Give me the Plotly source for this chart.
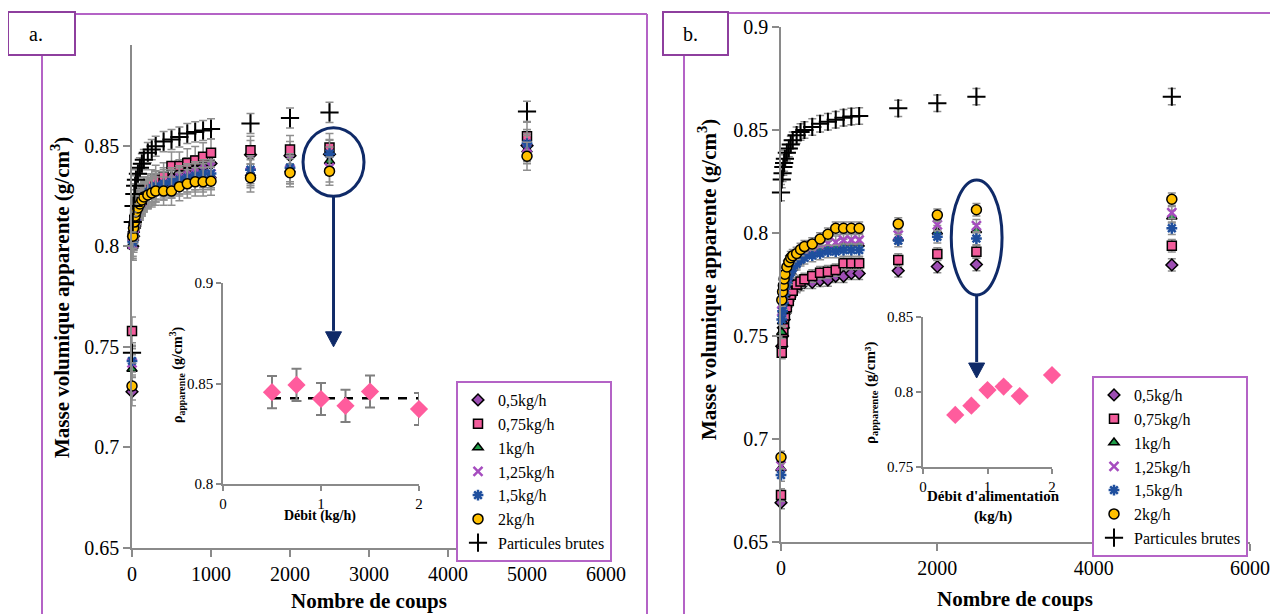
import plotly.graph_objects as go

# ---------------- data ----------------
X = [0, 10, 20, 30, 40, 50, 75, 100, 125, 150, 200, 250, 300, 400, 500,
     600, 700, 800, 900, 1000, 1500, 2000, 2500, 5000]
LABELS = ["0,5kg/h", "0,75kg/h", "1kg/h", "1,25kg/h", "1,5kg/h", "2kg/h", "Particules brutes"]

# panel a
A_05 = [0.7277, 0.800, 0.805, 0.809, 0.812, 0.815, 0.818, 0.821, 0.823, 0.825, 0.827, 0.829,
        0.8305, 0.832, 0.834, 0.836, 0.837, 0.838, 0.8395, 0.8411, 0.8455, 0.845, 0.8457, 0.850]
A_075 = [0.7578, 0.805, 0.809, 0.813, 0.816, 0.818, 0.822, 0.824, 0.826, 0.8275, 0.829, 0.831,
         0.8332, 0.8345, 0.8398, 0.8398, 0.8414, 0.8426, 0.8444, 0.8464, 0.8477, 0.848, 0.849, 0.8546]
A_1 = [0.739, 0.800, 0.804, 0.808, 0.811, 0.814, 0.817, 0.820, 0.822, 0.824, 0.826, 0.828,
       0.829, 0.830, 0.831, 0.832, 0.833, 0.834, 0.834, 0.835, 0.836, 0.838, 0.8423, 0.848]
A_125 = [0.742, 0.801, 0.805, 0.809, 0.812, 0.815, 0.818, 0.820, 0.822, 0.824, 0.826, 0.828,
         0.829, 0.830, 0.831, 0.833, 0.834, 0.835, 0.835, 0.836, 0.837, 0.838, 0.8389, 0.849]
A_15 = [0.743, 0.802, 0.806, 0.810, 0.813, 0.816, 0.819, 0.821, 0.823, 0.825, 0.827, 0.829,
        0.830, 0.831, 0.832, 0.833, 0.834, 0.835, 0.836, 0.8361, 0.838, 0.839, 0.846, 0.851]
A_2 = [0.7305, 0.805, 0.809, 0.812, 0.815, 0.817, 0.819, 0.821, 0.823, 0.8245, 0.8255, 0.8265,
       0.8274, 0.8274, 0.8274, 0.8296, 0.831, 0.832, 0.832, 0.8323, 0.834, 0.8365, 0.8373, 0.8447]
A_RAW = [0.747, 0.812, 0.820, 0.826, 0.830, 0.833, 0.836, 0.839, 0.841, 0.843, 0.8465, 0.848,
         0.8497, 0.852, 0.853, 0.8543, 0.856, 0.8568, 0.8575, 0.8583, 0.861, 0.8637, 0.8665, 0.867]
A_ERR = [0.007, 0.007, 0.007, 0.007, 0.007, 0.007, 0.005]

# panel b
B_05 = [0.6691, 0.745, 0.750, 0.754, 0.758, 0.761, 0.765, 0.768, 0.770, 0.772, 0.774, 0.775,
        0.776, 0.776, 0.777, 0.7772, 0.779, 0.779, 0.7804, 0.7804, 0.7817, 0.7837, 0.7847, 0.7845]
B_075 = [0.6728, 0.7419, 0.747, 0.752, 0.756, 0.760, 0.764, 0.767, 0.770, 0.772, 0.775, 0.7765,
         0.7775, 0.7791, 0.7807, 0.7812, 0.782, 0.7853, 0.7853, 0.7853, 0.7869, 0.7898, 0.7909, 0.7938]
B_1 = [0.6858, 0.7518, 0.757, 0.762, 0.766, 0.770, 0.774, 0.778, 0.781, 0.783, 0.786, 0.788,
       0.7895, 0.791, 0.792, 0.793, 0.7935, 0.794, 0.7947, 0.7947, 0.7975, 0.8006, 0.8013, 0.8079]
B_125 = [0.6869, 0.762, 0.766, 0.770, 0.773, 0.776, 0.779, 0.782, 0.784, 0.786, 0.788, 0.790,
         0.791, 0.7925, 0.794, 0.795, 0.7955, 0.7966, 0.7966, 0.7966, 0.799, 0.8039, 0.8036, 0.8099]
B_15 = [0.6825, 0.758, 0.762, 0.766, 0.770, 0.773, 0.776, 0.779, 0.781, 0.783, 0.785, 0.787,
        0.788, 0.789, 0.790, 0.791, 0.791, 0.7917, 0.7917, 0.7917, 0.7963, 0.7982, 0.7973, 0.8023]
B_2 = [0.6911, 0.7675, 0.7715, 0.7745, 0.7777, 0.780, 0.7835, 0.786, 0.788, 0.789, 0.7901, 0.792,
       0.7934, 0.7947, 0.7971, 0.7994, 0.8023, 0.8023, 0.8023, 0.8023, 0.8044, 0.8087, 0.8113, 0.8164]
B_RAW = [0.8196, 0.826, 0.829, 0.832, 0.834, 0.836, 0.839, 0.841, 0.843, 0.845, 0.8475, 0.849,
         0.850, 0.8515, 0.853, 0.854, 0.855, 0.856, 0.8565, 0.8568, 0.8605, 0.863, 0.8662, 0.8662]
B_ERR = [0.003, 0.003, 0.003, 0.003, 0.003, 0.003, 0.004]

# insets
INSET_X = [0.5, 0.75, 1, 1.25, 1.5, 2]
INSET_A = [0.8457, 0.8493, 0.8423, 0.8389, 0.846, 0.8373]
INSET_A_ERR = 0.008
INSET_A_MEAN = 0.8427
INSET_B = [0.7847, 0.7909, 0.8013, 0.8036, 0.7973, 0.8113]
INSET_B_ERR = 0.002

# ---------------- styles ----------------
W, H = 1278, 614
OFF = 8  # page body margin: the figure is drawn 8px from the window's corner
SERIF = "Liberation Serif, Times New Roman, serif"
AXC = "#8a8a8a"
NAVY = "#0f2a68"
FRAME = "#b463c6"
BOXC = "#8e3f9e"

STYLES = [
    dict(symbol="diamond", color="#9d4db3", size=9, line=dict(color="black", width=1.5)),
    dict(symbol="square", color="#f25c9b", size=9, line=dict(color="black", width=1.5)),
    dict(symbol="triangle-up", color="#1e9e48", size=9, line=dict(color="black", width=1.5)),
    dict(symbol="x-thin", color="#a64dbf", size=9, line=dict(color="#a64dbf", width=2.5)),
    dict(symbol="asterisk", color="#1f4f9e", size=9, line=dict(color="#1f4f9e", width=2.5)),
    dict(symbol="circle", color="#ffc000", size=10, line=dict(color="black", width=1.5)),
    dict(symbol="cross-thin", color="black", size=13, line=dict(color="black", width=2)),
]


def px(x):
    return (x - OFF) / W


def py(y):
    return 1 - (y - OFF) / H


fig = go.Figure()

for series, errs, xa, ya, leg in [
    ([A_05, A_075, A_1, A_125, A_15, A_2, A_RAW], A_ERR, "x", "y", "legend"),
    ([B_05, B_075, B_1, B_125, B_15, B_2, B_RAW], B_ERR, "x2", "y2", "legend2"),
]:
    for lab, vals, err, st in zip(LABELS, series, errs, STYLES):
        fig.add_trace(go.Scatter(
            x=X, y=vals, mode="markers", name=lab, xaxis=xa, yaxis=ya, legend=leg,
            cliponaxis=False,
            marker=dict(symbol=st["symbol"], color=st["color"], size=st["size"], line=st["line"]),
            error_y=dict(type="data", array=[err] * len(vals), color="#8f8f8f",
                         thickness=1.5, width=4),
        ))

# inset a
fig.add_trace(go.Scatter(
    x=[INSET_X[0], INSET_X[-1]], y=[INSET_A_MEAN, INSET_A_MEAN], mode="lines",
    line=dict(color="black", width=2.5, dash="dash"), xaxis="x3", yaxis="y3", showlegend=False))
fig.add_trace(go.Scatter(
    x=INSET_X, y=INSET_A, mode="markers", xaxis="x3", yaxis="y3", showlegend=False,
    cliponaxis=False,
    marker=dict(symbol="diamond", color="#ff5c9d", size=14),
    error_y=dict(type="data", array=[INSET_A_ERR] * len(INSET_A), color="#7f7f7f",
                 thickness=2, width=5)))
# inset b
fig.add_trace(go.Scatter(
    x=INSET_X, y=INSET_B, mode="markers", xaxis="x4", yaxis="y4", showlegend=False,
    cliponaxis=False,
    marker=dict(symbol="diamond", color="#ff5c9d", size=14),
    error_y=dict(type="data", array=[INSET_B_ERR] * len(INSET_B), color="#7f7f7f",
                 thickness=2, width=5)))

axis_common = dict(showline=True, linecolor=AXC, linewidth=1.5, ticks="outside",
                   tickcolor=AXC, tickwidth=1.5, ticklen=7, showgrid=False, zeroline=False,
                   automargin=False,
                   tickfont=dict(family=SERIF, size=20, color="black"))
inset_common = dict(showline=True, linecolor=AXC, linewidth=1.5, ticks="outside",
                    tickcolor=AXC, tickwidth=1.5, ticklen=5, showgrid=False, zeroline=False,
                    automargin=False,
                    tickfont=dict(family=SERIF, size=15, color="black"))

legend_common = dict(xanchor="left", yanchor="top", bordercolor=FRAME, borderwidth=2,
                     bgcolor="white", font=dict(family=SERIF, size=16, color="black"),
                     tracegroupgap=0, itemwidth=30)

fig.update_layout(
    width=W, height=H, autosize=False,
    margin=dict(l=0, r=0, t=0, b=0, pad=0, autoexpand=False),
    paper_bgcolor="white", plot_bgcolor="rgba(0,0,0,0)",
    font=dict(family=SERIF, color="black"),
    xaxis=dict(domain=[px(132), px(606)], range=[0, 6000], anchor="y",
               tickvals=[0, 1000, 2000, 3000, 4000, 5000, 6000], **axis_common),
    yaxis=dict(domain=[py(548), py(45)], range=[0.65, 0.9], anchor="x",
               tickvals=[0.65, 0.7, 0.75, 0.8, 0.85],
               ticktext=["0.65", "0.7", "0.75", "0.8", "0.85"], **axis_common),
    xaxis2=dict(domain=[px(781), px(1250)], range=[0, 6000], anchor="y2",
                tickvals=[0, 2000, 4000, 6000], **axis_common),
    yaxis2=dict(domain=[py(542), py(27)], range=[0.65, 0.9], anchor="x2",
                tickvals=[0.65, 0.7, 0.75, 0.8, 0.85, 0.9],
                ticktext=["0.65", "0.7", "0.75", "0.8", "0.85", "0.9"], **axis_common),
    xaxis3=dict(domain=[px(223), px(419)], range=[0, 2], anchor="y3",
                tickvals=[0, 1, 2], **inset_common),
    yaxis3=dict(domain=[py(484), py(283)], range=[0.8, 0.9], anchor="x3",
                tickvals=[0.8, 0.85, 0.9], ticktext=["0.8", "0.85", "0.9"], **inset_common),
    xaxis4=dict(domain=[px(923), px(1052)], range=[0, 2], anchor="y4",
                tickvals=[0, 1, 2], **inset_common),
    yaxis4=dict(domain=[py(467), py(317)], range=[0.75, 0.85], anchor="x4",
                tickvals=[0.75, 0.8, 0.85], ticktext=["0.75", "0.8", "0.85"], **inset_common),
    legend=dict(x=px(456), y=py(381), **legend_common),
    legend2=dict(x=px(1092), y=py(376), **legend_common),
)

# arrow geometry (pixels converted to each panel's data units)
A_XPX = 1000 / 79.0      # data units per pixel, panel a x
A_YPX = 0.05 / 100.6     # panel a y
B_XPX = 1000 / 78.2
B_YPX = 0.05 / 103.0
HEAD_W, HEAD_H = 8, 15

A_ELL = dict(x0=2165, x1=2937, y0=0.8248, y1=0.8589)
A_TIP = 0.75
B_ELL = dict(x0=2178, x1=2828, y0=0.7699, y1=0.8257)
B_TIP = 0.7296

shapes = [
    # panel a frame
    dict(type="line", x0=px(42), y0=py(55), x1=px(42), y1=py(625), line=dict(color=FRAME, width=2)),
    dict(type="line", x0=px(75), y0=py(14), x1=px(647), y1=py(14), line=dict(color=FRAME, width=2)),
    dict(type="line", x0=px(647), y0=py(14), x1=px(647), y1=py(625), line=dict(color=FRAME, width=2)),
    dict(type="rect", x0=px(8), y0=py(55), x1=px(75), y1=py(12), line=dict(color=BOXC, width=2)),
    # panel b frame
    dict(type="line", x0=px(684), y0=py(55), x1=px(684), y1=py(625), line=dict(color=FRAME, width=2)),
    dict(type="line", x0=px(728), y0=py(13), x1=px(1290), y1=py(13), line=dict(color=FRAME, width=2)),
    dict(type="rect", x0=px(663), y0=py(55), x1=px(728), y1=py(12), line=dict(color=BOXC, width=2)),
]
for ell, tip, xr, yr, xs, ys in [(A_ELL, A_TIP, "x", "y", A_XPX, A_YPX),
                                  (B_ELL, B_TIP, "x2", "y2", B_XPX, B_YPX)]:
    cx = (ell["x0"] + ell["x1"]) / 2
    base = tip + HEAD_H * ys
    shapes.append(dict(type="circle", xref=xr, yref=yr, line=dict(color=NAVY, width=3), **ell))
    shapes.append(dict(type="line", xref=xr, yref=yr, x0=cx, x1=cx, y0=ell["y0"], y1=base + ys,
                       line=dict(color=NAVY, width=3)))
    shapes.append(dict(type="path", xref=xr, yref=yr, fillcolor=NAVY, line=dict(color=NAVY, width=1),
                       path=f"M {cx - HEAD_W * xs},{base} L {cx + HEAD_W * xs},{base} L {cx},{tip} Z"))
for s in shapes:
    s.setdefault("xref", "paper")
    s.setdefault("yref", "paper")
fig.update_layout(shapes=shapes)

ann = [
    dict(text="a.", x=px(36), y=py(34), size=20, bold=False),
    dict(text="b.", x=px(690), y=py(34), size=20, bold=False),
    dict(text="Masse volumique apparente (g/cm<sup>3</sup>)", x=px(60), y=py(298), size=21, angle=-90),
    dict(text="Nombre de coups", x=px(369), y=py(601), size=21),
    dict(text="Masse volumique apparente (g/cm<sup>3</sup>)", x=px(707), y=py(280), size=21, angle=-90),
    dict(text="Nombre de coups", x=px(1015), y=py(599), size=21),
    dict(text="ρ<sub>apparente</sub> (g/cm<sup>3</sup>)", x=px(177), y=py(375), size=14, angle=-90),
    dict(text="Débit (kg/h)", x=px(320), y=py(516), size=14),
    dict(text="ρ<sub>apparente</sub> (g/cm³)", x=px(871), y=py(393), size=15, angle=-90),
    dict(text="Débit d'alimentation<br>(kg/h)", x=px(993), y=py(506), size=15),
]
annotations = []
for a in ann:
    txt = a["text"] if a.get("bold") is False else f"<b>{a['text']}</b>"
    annotations.append(dict(text=txt, x=a["x"], y=a["y"], xref="paper", yref="paper",
                            showarrow=False, xanchor="center", yanchor="middle",
                            textangle=a.get("angle", 0),
                            font=dict(family=SERIF, color="black", size=a["size"])))
fig.update_layout(annotations=annotations)

fig.write_html("out.html")
